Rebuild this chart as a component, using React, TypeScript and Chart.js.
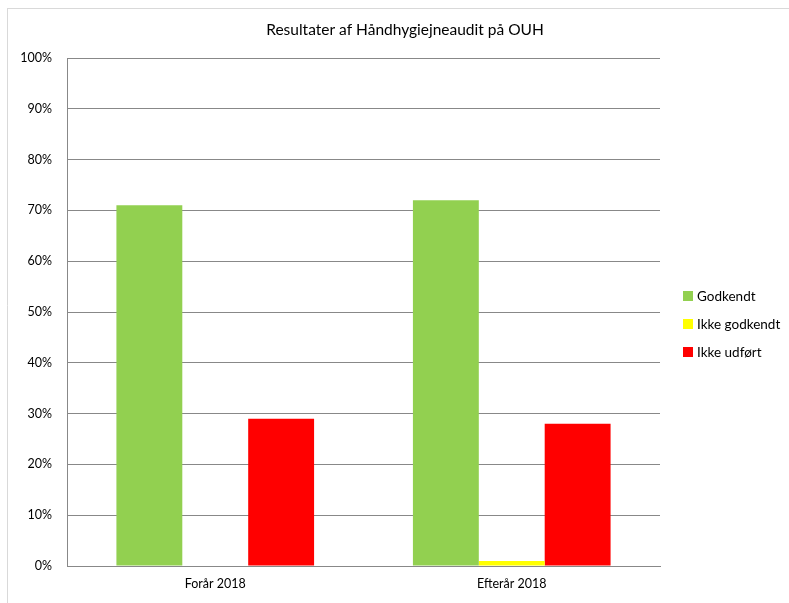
import React, { useEffect, useRef } from "react";
import { Chart, registerables } from "chart.js";

Chart.register(...registerables);

const categories = ["Forår 2018", "Efterår 2018"];
const seriesNames = ["Godkendt", "Ikke godkendt", "Ikke udført"];
const godkendt = [71, 72];
const ikkeGodkendt = [0, 1];
const ikkeUdfoert = [29, 28];
const colors = ["#92D050", "#FFFF00", "#FF0000"];
const titleText = "Resultater af Håndhygiejneaudit på OUH";

const FONT = "Lato, 'Open Sans', sans-serif";

const framePlugin = {
  id: "frame",
  beforeDraw(chart: any) {
    const ctx = chart.ctx;
    ctx.save();
    ctx.fillStyle = "#ffffff";
    ctx.fillRect(0, 0, chart.width, chart.height);
    ctx.strokeStyle = "#d9d9d9";
    ctx.lineWidth = 1;
    ctx.beginPath();
    ctx.moveTo(7.5, 8);
    ctx.lineTo(7.5, chart.height);
    ctx.moveTo(7, 8.5);
    ctx.lineTo(chart.width, 8.5);
    ctx.stroke();
    ctx.restore();
  },
};

const titleLegendPlugin = {
  id: "titleLegend",
  afterDraw(chart: any) {
    const ctx = chart.ctx;
    ctx.save();
    // title, centred on the whole chart frame
    ctx.font = `15.5px ${FONT}`;
    ctx.fillStyle = "#000";
    ctx.textAlign = "center";
    ctx.textBaseline = "middle";
    ctx.fillText(titleText, 405, 30);
    // legend
    const ds = chart.data.datasets;
    const x = chart.chartArea.right + 23;
    const cy = (chart.chartArea.top + chart.chartArea.bottom) / 2 + 12;
    const gap = 28;
    ctx.font = `13.5px ${FONT}`;
    ctx.textAlign = "left";
    ds.forEach((d: any, i: number) => {
      const y = cy + (i - (ds.length - 1) / 2) * gap;
      ctx.fillStyle = d.backgroundColor;
      ctx.fillRect(x, y - 5, 10, 10);
      ctx.fillStyle = "#000";
      ctx.fillText(d.label, x + 14, y + 1);
    });
    ctx.restore();
  },
};

export default function App() {
  const ref = useRef<HTMLCanvasElement>(null);
  useEffect(() => {
    document.body.style.margin = "0";
    const chart = new Chart(ref.current!, {
      type: "bar",
      data: {
        labels: categories,
        datasets: [
          { label: seriesNames[0], data: godkendt, backgroundColor: colors[0] },
          { label: seriesNames[1], data: ikkeGodkendt, backgroundColor: colors[1] },
          { label: seriesNames[2], data: ikkeUdfoert, backgroundColor: colors[2] },
        ],
      },
      options: {
        responsive: false,
        animation: false,
        maintainAspectRatio: false,
        layout: { padding: { left: 0, right: 129, top: 58, bottom: 2 } },
        datasets: { bar: { categoryPercentage: 3 / 4.5, barPercentage: 1 } },
        plugins: {
          title: { display: false },
          legend: { display: false },
          tooltip: { enabled: false },
        },
        scales: {
          x: {
            grid: { display: false, drawTicks: false },
            border: { color: "#888888" },
            ticks: { color: "#000", font: { family: FONT, size: 12.5 }, padding: 10 },
          },
          y: {
            min: 0,
            max: 100,
            afterFit: (s: any) => {
              s.width = 67;
            },
            grid: { color: "#888888", drawTicks: false },
            border: { color: "#888888" },
            ticks: {
              stepSize: 10,
              color: "#000",
              padding: 15,
              font: { family: FONT, size: 12.5 },
              callback: (v: any) => v + "%",
            },
          },
        },
      },
      plugins: [framePlugin, titleLegendPlugin],
    });
    return () => chart.destroy();
  }, []);
  return <canvas ref={ref} width={789} height={603} style={{ display: "block" }} />;
}
